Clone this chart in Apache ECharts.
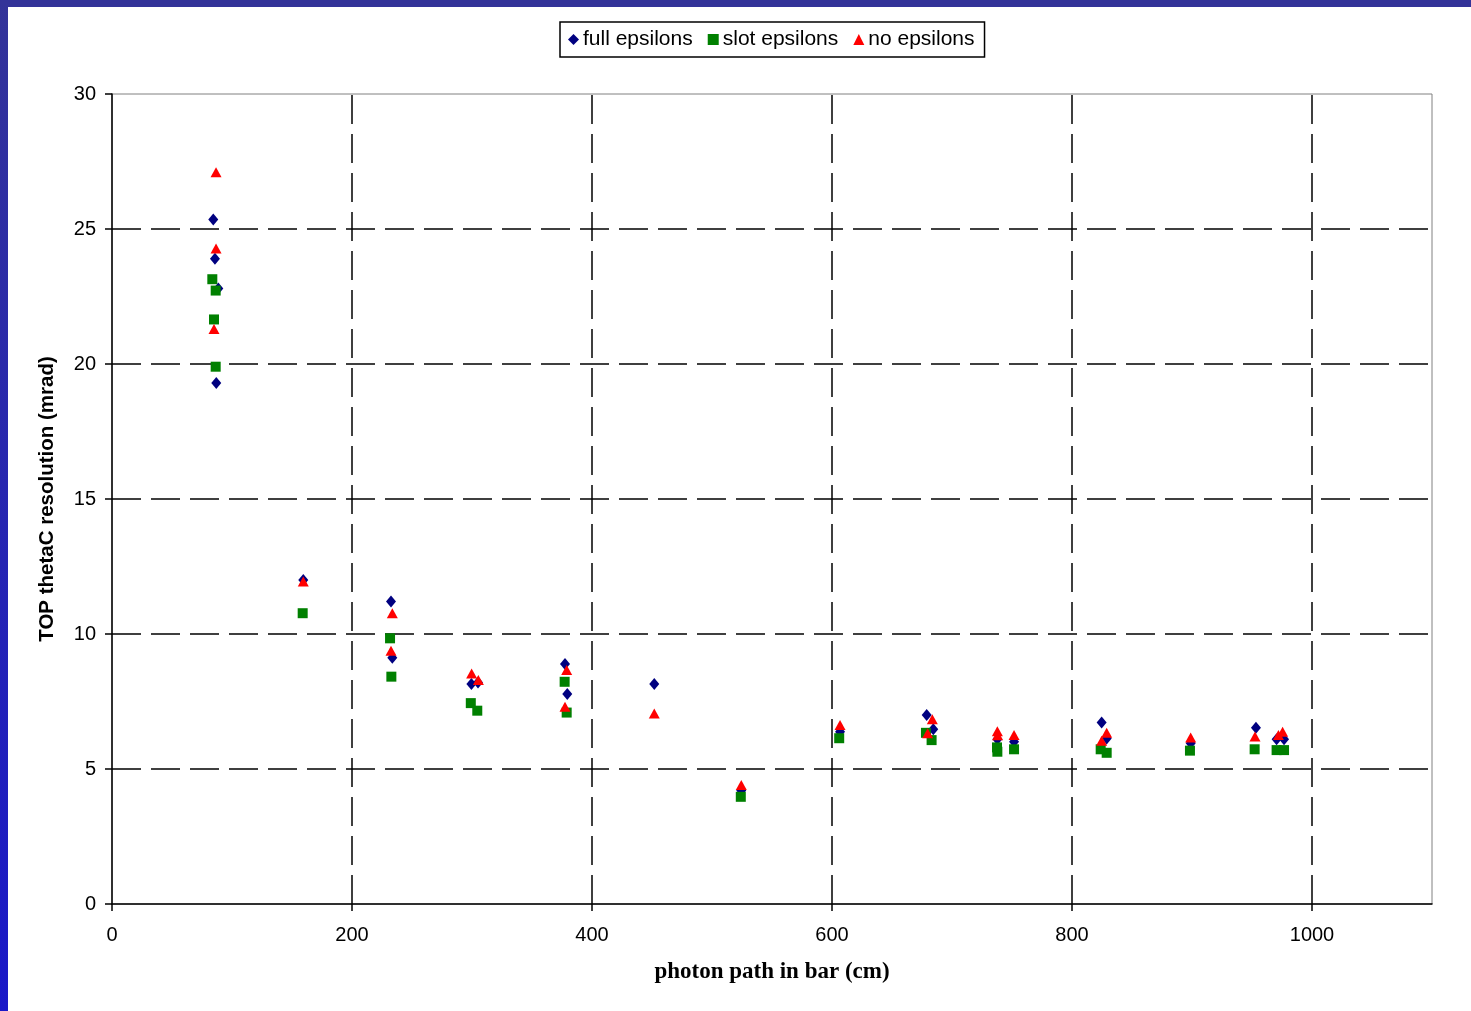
<!DOCTYPE html>
<html>
<head>
<meta charset="utf-8">
<script src="https://cdn.jsdelivr.net/npm/echarts@6/dist/echarts.min.js"></script>
<style>
html,body{margin:0;padding:0;background:#fff;}
#frameTop{position:absolute;left:0;top:0;width:1471px;height:7px;background:#333399;z-index:2;}
#frameLeft{position:absolute;left:0;top:0;width:8px;height:1011px;background:linear-gradient(#333399,#1a18c8);z-index:2;}
#chart{position:absolute;left:0;top:0;width:1471px;height:1011px;}
</style>
</head>
<body>
<div id="frameTop"></div>
<div id="frameLeft"></div>
<div id="chart"></div>
<script>
// ---- data ----
const seriesNames = ['full epsilons', 'slot epsilons', 'no epsilons'];
const fullX = [84.4, 85.8, 88.6, 86.9, 159.4, 232.5, 233.6, 299.5, 305.0, 377.5, 379.4, 451.9, 524.4, 606.7, 678.9, 684.4, 737.8, 751.7, 824.7, 828.9, 898.9, 953.3, 970.5, 976.7];
const fullY = [25.35, 23.9, 22.8, 19.3, 12.0, 11.2, 9.12, 8.15, 8.2, 8.89, 7.78, 8.15, 4.2, 6.38, 7.0, 6.47, 6.1, 6.01, 6.72, 6.13, 5.95, 6.53, 6.1, 6.1];
const slotX = [83.6, 86.4, 85.0, 86.4, 158.9, 231.7, 232.8, 299.0, 304.4, 377.2, 378.9, 524.0, 606.0, 678.3, 683.0, 737.5, 737.8, 751.7, 823.9, 828.9, 898.3, 952.2, 970.5, 976.7];
const slotY = [23.14, 22.72, 21.65, 19.9, 10.77, 9.84, 8.42, 7.44, 7.16, 8.23, 7.09, 3.97, 6.14, 6.34, 6.07, 5.8, 5.64, 5.73, 5.73, 5.6, 5.68, 5.73, 5.7, 5.7];
const noX = [86.7, 86.7, 85.0, 159.4, 233.6, 232.5, 299.7, 305.3, 378.9, 377.5, 451.9, 524.4, 606.7, 683.6, 679.7, 737.8, 738.0, 751.7, 828.9, 824.7, 898.9, 952.5, 972.0, 975.5];
const noY = [27.1, 24.28, 21.3, 11.94, 10.77, 9.38, 8.54, 8.3, 8.67, 7.31, 7.06, 4.41, 6.63, 6.84, 6.32, 6.4, 6.25, 6.26, 6.34, 6.05, 6.17, 6.2, 6.26, 6.38];
const xTickValues = [0, 200, 400, 600, 800, 1000];
const xGridValues = [200, 400, 600, 800, 1000];
const yGridValues = [5, 10, 15, 20, 25];
const xAxisTitle = 'photon path in bar (cm)';
const yAxisTitle = 'TOP thetaC resolution (mrad)';

function pairs(xs, ys) { return xs.map((x, i) => [x, ys[i]]); }

const chart = echarts.init(document.getElementById('chart'), null, {renderer: 'canvas'});
const dash = {color: '#000', width: 1.5, type: [29, 10]};
const gridLines = xGridValues.map(v => ({xAxis: v})).concat(yGridValues.map(v => ({yAxis: v})));
const tickFont = 'Liberation Sans, Arial, sans-serif';

const option = {
  animation: false,
  backgroundColor: '#fff',
  legend: {
    left: 560, top: 22,
    padding: [7, 10, 7, 8],
    itemGap: 15,
    itemWidth: 11, itemHeight: 11,
    borderColor: '#000', borderWidth: 1.5,
    backgroundColor: '#fff',
    textStyle: {fontFamily: tickFont, fontSize: 21, color: '#000', padding: [0, 0, 0, -1]},
    data: [
      {name: seriesNames[0], icon: 'diamond'},
      {name: seriesNames[1], icon: 'rect'},
      {name: seriesNames[2], icon: 'triangle'}
    ]
  },
  grid: {
    left: 112, right: 39, top: 94, bottom: 107,
    show: true, borderColor: '#808080', borderWidth: 1, backgroundColor: '#fff'
  },
  xAxis: {
    type: 'value', min: 0, max: 1100, interval: 100,
    name: xAxisTitle, nameLocation: 'middle', nameGap: 57,
    nameTextStyle: {fontFamily: 'Liberation Serif, Times New Roman, serif', fontWeight: 'bold', fontSize: 23, color: '#000'},
    axisLine: {show: true, onZero: false, lineStyle: {color: '#000', width: 1.5}},
    axisTick: {show: true, length: 7, lineStyle: {color: '#000', width: 1.5}, customValues: xTickValues},
    axisLabel: {fontFamily: tickFont, fontSize: 20, color: '#000', margin: 21,
      customValues: xTickValues, formatter: v => String(v)},
    splitLine: {show: false}
  },
  yAxis: {
    type: 'value', min: 0, max: 30, interval: 5,
    name: yAxisTitle, nameLocation: 'middle', nameGap: 54,
    nameTextStyle: {fontFamily: tickFont, fontWeight: 'bold', fontSize: 20.5, color: '#000'},
    axisLine: {show: true, lineStyle: {color: '#000', width: 1.5}},
    axisTick: {show: true, length: 7, lineStyle: {color: '#000', width: 1.5}},
    axisLabel: {fontFamily: tickFont, fontSize: 20, color: '#000', margin: 16},
    splitLine: {show: false}
  },
  series: [
    {
      name: seriesNames[0], type: 'scatter', symbol: 'diamond', symbolSize: [10, 12],
      itemStyle: {color: '#000080', opacity: 1}, data: pairs(fullX, fullY), z: 3,
      markLine: {silent: true, symbol: 'none', label: {show: false}, lineStyle: dash, data: gridLines, z: 1}
    },
    {
      name: seriesNames[1], type: 'scatter', symbol: 'rect', symbolSize: [10, 10],
      itemStyle: {color: '#008000', opacity: 1}, data: pairs(slotX, slotY), z: 4
    },
    {
      name: seriesNames[2], type: 'scatter', symbol: 'triangle', symbolSize: [11, 10],
      itemStyle: {color: '#ff0000', opacity: 1}, data: pairs(noX, noY), z: 5
    }
  ]
};
chart.setOption(option);
</script>
</body>
</html>
